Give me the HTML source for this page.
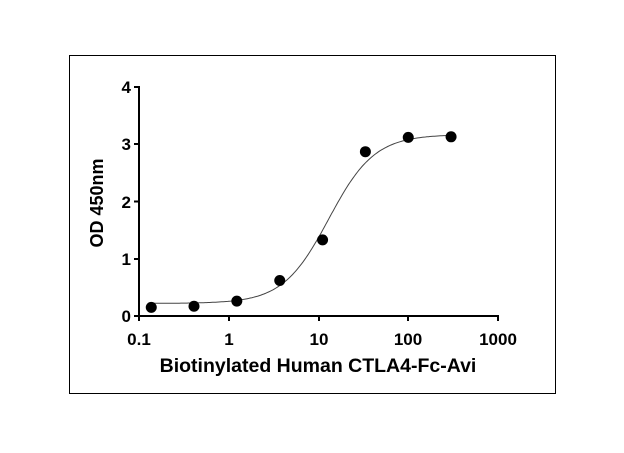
<!DOCTYPE html><html><head><style>body{margin:0;background:#fff}</style></head><body>
<svg width="624" height="448" xmlns="http://www.w3.org/2000/svg" font-family="Liberation Sans, Arial, sans-serif" font-weight="bold">
<rect x="69.5" y="55.5" width="486" height="338" fill="none" stroke="#000" stroke-width="1"/>
<g stroke="#000" stroke-width="2" fill="none">
<line x1="139" y1="86" x2="139" y2="317"/>
<line x1="138" y1="316" x2="499" y2="316"/>
<line x1="134" y1="87" x2="139" y2="87"/><line x1="134" y1="144" x2="139" y2="144"/><line x1="134" y1="201.5" x2="139" y2="201.5"/><line x1="134" y1="259" x2="139" y2="259"/><line x1="134" y1="316" x2="139" y2="316"/>
<line x1="139" y1="316" x2="139" y2="321"/><line x1="229" y1="316" x2="229" y2="321"/><line x1="319" y1="316" x2="319" y2="321"/><line x1="408" y1="316" x2="408" y2="321"/><line x1="498" y1="316" x2="498" y2="321"/>
</g>
<g font-size="17" text-anchor="end">
<text x="131" y="93">4</text><text x="131" y="150">3</text><text x="131" y="208">2</text><text x="131" y="265">1</text><text x="131" y="322">0</text>
</g>
<g font-size="17" text-anchor="middle">
<text x="139" y="345">0.1</text><text x="229" y="345">1</text><text x="319" y="345">10</text><text x="408" y="345">100</text><text x="498" y="345">1000</text>
</g>
<text x="318" y="372" font-size="19.5" text-anchor="middle">Biotinylated Human CTLA4-Fc-Avi</text>
<text transform="translate(103,203) rotate(-90)" font-size="18" text-anchor="middle">OD 450nm</text>
<path id="c" fill="none" stroke="#444" stroke-width="1"/>
<g fill="#000" id="pts"></g>
</svg>
<script>
function X(v){return 139+89.75*Math.log10(v/0.1)}
function Y(v){return 316-57.25*v}
var d="";for(var i=0;i<=200;i++){var lx=Math.log10(0.13)+i*(Math.log10(300)-Math.log10(0.13))/200;var v=Math.pow(10,lx);var y=0.22+(3.17-0.22)/(1+Math.pow(13/v,1.7));d+=(i?"L":"M")+X(v).toFixed(1)+" "+Y(y).toFixed(1);}
document.getElementById("c").setAttribute("d",d);
var p=[[0.137,0.15],[0.41,0.17],[1.23,0.26],[3.7,0.62],[11.1,1.33],[33.3,2.87],[100,3.12],[300,3.13]],s="";
p.forEach(function(q){s+='<circle cx="'+X(q[0])+'" cy="'+Y(q[1])+'" r="5.5"/>'});
document.getElementById("pts").innerHTML=s;
</script>
</body></html>
